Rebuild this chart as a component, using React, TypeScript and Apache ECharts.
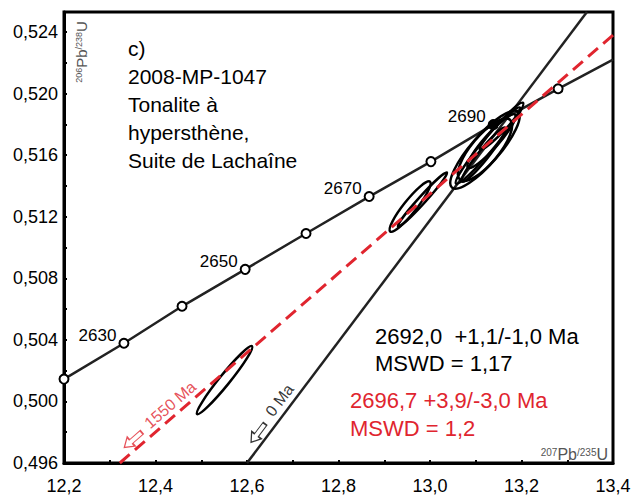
import React, { useEffect, useRef } from "react";
import * as echarts from "echarts";

// Axis ranges / ticks
const xRange = [12.2, 13.4];
const xStep = 0.2;
const yRange = [0.496, 0.5253];
const yStep = 0.004;

// Concordia curve points (207Pb/235U, 206Pb/238U, age Ma)
const concordiaX = [12.2, 12.331, 12.458, 12.596, 12.729, 12.867, 13.002, 13.138, 13.28, 13.4];
const concordiaY = [0.50145, 0.50378, 0.50618, 0.50858, 0.51091, 0.51331, 0.51558, 0.51798, 0.52031, 0.5222];
const concordiaAge = [2620, 2630, 2640, 2650, 2660, 2670, 2680, 2690, 2700, null];
const labeledAges = [2630, 2650, 2670, 2690];

// Discordia lines
const discordia0 = [[12.6, 0.496], [13.343, 0.5253]];
const discordia1550 = [[12.322, 0.496], [13.4, 0.5238]];

// Error ellipses: [x1, y1, x2, y2, minor/major ratio]
const ellipses = [
  [12.491, 0.49918, 12.611, 0.50359, 0.12],
  [12.913, 0.51104, 13.0, 0.51428, 0.2],
  [12.93, 0.51136, 13.037, 0.51487, 0.1],
  [13.048, 0.51389, 13.1923, 0.51882, 0.28],
  [13.0568, 0.51415, 13.2033, 0.5194, 0.12],
  [13.0656, 0.51441, 13.1749, 0.5183, 0.35],
  [13.083, 0.51519, 13.1858, 0.51863, 0.2],
  [13.07, 0.51428, 13.164, 0.51778, 0.15],
  [13.1093, 0.51636, 13.1967, 0.51908, 0.15],
];

// Line annotations
const annoText = ["1550 Ma", "0 Ma"];
const annoTextPos = [[12.432, 0.49978], [12.671, 0.50008]];
const annoArrowPos = [[12.3508, 0.4975], [12.624, 0.49794]];
const annoAngle = [41, 53];

const titleLines = ["c)", "2008-MP-1047", "Tonalite à", "hypersthène,", "Suite de Lachaîne"];
const resultBlack = ["2692,0  +1,1/-1,0 Ma", "MSWD = 1,17"];
const resultRed = ["2696,7 +3,9/-3,0 Ma", "MSWD = 1,2"];

const RED = "#e0252f";
const FONT = "'Liberation Sans', Arial, sans-serif";
const ARROW = "path://M0,5L7,0L7,3L18,3L18,7L7,7L7,10Z";

export default function App() {
  const ref = useRef<HTMLDivElement>(null);
  useEffect(() => {
    if (!ref.current) return;
    const chart = echarts.init(ref.current, null, { renderer: "svg" });
    const annoColors = [RED, "#000"];
    const option: any = {
      animation: false,
      backgroundColor: "#fff",
      grid: { left: 64, right: 23, top: 12, bottom: 35, show: true, borderColor: "#000", borderWidth: 3 },
      xAxis: {
        type: "value",
        min: xRange[0],
        max: xRange[1],
        interval: xStep,
        axisLine: { show: true, lineStyle: { color: "#000", width: 3 } },
        axisTick: { show: true, inside: true, length: 3, lineStyle: { color: "#000", width: 2 } },
        minorTick: { show: true, splitNumber: 2, length: 3, lineStyle: { color: "#000", width: 2 } },
        splitLine: { show: false },
        axisLabel: {
          color: "#000",
          fontSize: 18,
          fontFamily: FONT,
          margin: 14,
          formatter: (v: number) => v.toFixed(1).replace(".", ","),
        },
      },
      yAxis: {
        type: "value",
        min: yRange[0],
        max: yRange[1],
        interval: yStep,
        axisLine: { show: true, lineStyle: { color: "#000", width: 3 } },
        axisTick: { show: true, inside: true, length: 3, lineStyle: { color: "#000", width: 2 } },
        minorTick: { show: true, splitNumber: 2, length: 3, lineStyle: { color: "#000", width: 2 } },
        splitLine: { show: false },
        axisLabel: {
          color: "#000",
          fontSize: 18,
          fontFamily: FONT,
          margin: 6,
          showMaxLabel: false,
          formatter: (v: number) => v.toFixed(3).replace(".", ","),
        },
      },
      graphic: [
        {
          type: "text",
          left: 128,
          top: 34,
          style: { text: titleLines.join("\n"), font: `21px ${FONT}`, lineHeight: 28, fill: "#000" },
        },
        {
          type: "text",
          left: 375,
          top: 323,
          style: { text: resultBlack.join("\n"), font: `22px ${FONT}`, lineHeight: 27, fill: "#000" },
        },
        {
          type: "text",
          left: 350,
          top: 386,
          style: { text: resultRed.join("\n"), font: `22px ${FONT}`, lineHeight: 28, fill: RED },
        },
        {
          type: "text",
          x: 81,
          y: 52,
          rotation: Math.PI / 2,
          style: {
            text: "{s|206}{m|Pb}{s|/238}{m|U}",
            align: "center",
            verticalAlign: "middle",
            fill: "#555",
            rich: {
              s: { fontSize: 9, fontFamily: FONT, fill: "#555", verticalAlign: "top", lineHeight: 14 },
              m: { fontSize: 15, fontFamily: FONT, fill: "#555", lineHeight: 14 },
            },
          },
        },
        {
          type: "text",
          x: 608,
          y: 454,
          style: {
            text: "{s|207}{m|Pb}{s|/235}{m|U}",
            align: "right",
            verticalAlign: "middle",
            fill: "#555",
            rich: {
              s: { fontSize: 10, fontFamily: FONT, fill: "#555", verticalAlign: "top", lineHeight: 14 },
              m: { fontSize: 16, fontFamily: FONT, fill: "#555", lineHeight: 14 },
            },
          },
        },
      ],
      series: [
        {
          type: "line",
          z: 2,
          data: concordiaX.map((x, i) => {
            const age = concordiaAge[i];
            const item: any = { value: [x, concordiaY[i]] };
            if (age === null) item.symbol = "none";
            if (age === 2690) item.itemStyle = { color: "#000" };
            if (age !== null && labeledAges.includes(age)) {
              item.label = {
                show: true,
                formatter: String(age),
                position: "left",
                distance: 2,
                offset: [0, -8],
                fontSize: 17,
                fontFamily: FONT,
                color: "#000",
              };
            }
            return item;
          }),
          symbol: "circle",
          symbolSize: 9,
          showAllSymbol: true,
          itemStyle: { color: "#fff", borderColor: "#000", borderWidth: 2 },
          lineStyle: { color: "#222", width: 2.5 },
        },
        {
          type: "line",
          z: 2,
          data: discordia0,
          showSymbol: false,
          symbol: "none",
          lineStyle: { color: "#222", width: 2.5 },
        },
        {
          type: "custom",
          z: 3,
          data: ellipses,
          encode: { x: 0, y: 1 },
          renderItem: (_p: any, api: any) => {
            const p1 = api.coord([api.value(0), api.value(1)]);
            const p2 = api.coord([api.value(2), api.value(3)]);
            const dx = p2[0] - p1[0];
            const dy = p2[1] - p1[1];
            const rx = Math.sqrt(dx * dx + dy * dy) / 2;
            const ry = rx * api.value(4);
            return {
              type: "ellipse",
              x: (p1[0] + p2[0]) / 2,
              y: (p1[1] + p2[1]) / 2,
              rotation: Math.atan2(-dy, dx),
              shape: { cx: 0, cy: 0, rx, ry },
              style: { fill: "none", stroke: "#000", lineWidth: 2.5 },
            };
          },
        },
        {
          type: "line",
          z: 4,
          data: discordia1550,
          showSymbol: false,
          symbol: "none",
          lineStyle: { color: RED, width: 3, type: [13, 7] },
        },
        {
          type: "scatter",
          z: 5,
          symbolSize: 0,
          data: annoText.map((t, i) => ({
            value: annoTextPos[i],
            label: {
              show: true,
              position: "inside",
              formatter: t,
              rotate: annoAngle[i],
              fontSize: 16,
              fontFamily: FONT,
              color: annoColors[i],
            },
          })),
        },
        {
          type: "scatter",
          z: 5,
          symbol: ARROW,
          symbolSize: [23, 12],
          data: annoArrowPos.map((p, i) => ({
            value: p,
            symbolRotate: annoAngle[i],
            itemStyle: { color: "#fff", borderColor: annoColors[i], borderWidth: 1.3 },
          })),
        },
      ],
    };
    chart.setOption(option);
    return () => chart.dispose();
  }, []);
  return (
    <div
      ref={ref}
      style={{ position: "fixed", left: 0, top: 0, width: 636, height: 498, background: "#fff" }}
    />
  );
}
